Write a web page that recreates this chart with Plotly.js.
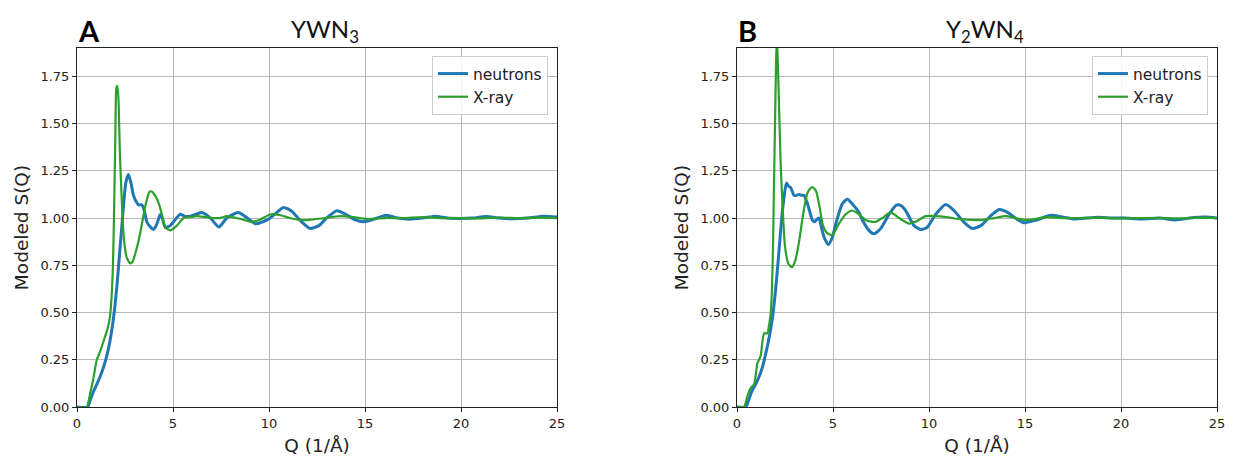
<!DOCTYPE html>
<html>
<head>
<meta charset="utf-8">
<script src="https://cdn.plot.ly/plotly-3.0.1.min.js"></script>
<style>html,body{margin:0;padding:0;background:#fff}#chart{width:1233px;height:457px}</style>
</head>
<body>
<div id="chart"></div>
<script>
// Panel A: YWN3
const qA_neutrons = [0,0.55,0.7,0.85,1.03,1.2,1.38,1.55,1.72,1.9,2.07,2.2,2.33,2.45,2.55,2.68,2.8,2.94,3.07,3.2,3.38,3.5,3.64,3.8,3.99,4.1,4.2,4.34,4.47,4.6,4.86,5.1,5.38,5.6,5.9,6.2,6.5,6.7,6.95,7.39,7.8,8.4,8.87,9.3,9.9,10.3,10.75,11.2,11.6,12.14,12.6,13.0,13.52,14.0,14.5,14.9,15.5,16.1,16.7,17.3,18.0,18.7,19.3,19.9,20.6,21.3,22.0,22.7,23.5,24.3,25];
const sA_neutrons = [0,0,0.04,0.08,0.12,0.16,0.21,0.27,0.35,0.47,0.63,0.79,0.95,1.10,1.19,1.23,1.19,1.12,1.09,1.07,1.07,1.04,0.98,0.955,0.94,0.955,0.98,1.02,0.99,0.95,0.96,0.99,1.02,1.01,1.01,1.02,1.03,1.02,1.0,0.953,1.0,1.03,1.0,0.97,0.99,1.02,1.056,1.035,0.99,0.945,0.96,1.0,1.038,1.02,0.99,0.98,0.995,1.015,1.0,0.994,1.0,1.01,1.0,0.998,1.0,1.008,1.0,0.996,1.0,1.01,1.005];
const qA_xray = [0,0.5,0.68,0.85,1.03,1.15,1.29,1.42,1.55,1.65,1.72,1.8,1.86,1.91,1.95,2.0,2.05,2.1,2.16,2.2,2.24,2.33,2.42,2.5,2.59,2.77,2.9,3.03,3.16,3.29,3.42,3.55,3.67,3.78,3.9,3.99,4.12,4.25,4.42,4.6,4.86,5.2,5.56,5.9,6.25,6.7,7.1,7.45,7.8,8.3,8.7,9.05,9.5,10.1,10.6,11.1,11.6,12.1,12.9,13.7,14.4,15.1,16.0,17.0,18.0,19.0,20.0,21.0,22.0,23.0,24.0,25];
const sA_xray = [0,0,0.07,0.15,0.25,0.28,0.32,0.36,0.40,0.44,0.48,0.58,0.71,0.92,1.15,1.45,1.69,1.70,1.63,1.48,1.32,1.10,0.92,0.84,0.79,0.76,0.77,0.81,0.86,0.92,0.99,1.06,1.11,1.14,1.14,1.13,1.11,1.08,1.02,0.95,0.935,0.96,1.0,1.005,1.01,1.005,1.0,1.0,1.01,1.0,0.99,0.98,0.99,1.02,1.015,1.0,0.99,0.99,1.0,1.01,1.005,0.995,1.0,1.0,1.005,1.0,1.0,0.998,1.003,1.0,1.002,1.0];
// Panel B: Y2WN4
const qB_neutrons = [0,0.45,0.62,0.8,0.97,1.15,1.32,1.49,1.62,1.75,1.88,2.01,2.14,2.27,2.36,2.45,2.57,2.68,2.8,2.97,3.1,3.23,3.36,3.49,3.66,3.8,3.92,4.05,4.13,4.27,4.4,4.53,4.76,4.97,5.1,5.23,5.49,5.75,6.0,6.35,6.53,6.87,7.14,7.48,7.92,8.3,8.52,8.78,9.22,9.57,9.9,10.35,10.87,11.3,11.8,12.26,12.7,13.2,13.65,14.1,14.5,14.95,15.6,16.34,17.0,17.6,18.2,18.8,19.5,20.2,21.1,22.0,22.85,23.6,24.4,25];
const sB_neutrons = [0,0,0.04,0.09,0.12,0.16,0.21,0.28,0.34,0.41,0.50,0.62,0.77,0.93,1.03,1.11,1.185,1.17,1.16,1.12,1.12,1.125,1.12,1.12,1.08,1.03,0.99,0.98,0.99,1.0,0.95,0.9,0.86,0.9,0.95,1.0,1.076,1.1,1.076,1.03,0.99,0.935,0.917,0.944,1.02,1.068,1.067,1.04,0.96,0.94,0.95,1.02,1.072,1.04,0.98,0.945,0.96,1.01,1.045,1.03,1.0,0.975,0.99,1.015,1.005,0.995,1.0,1.004,1.0,1.0,0.995,1.0,0.99,1.0,1.005,1.0];
const qB_xray = [0,0.36,0.55,0.71,0.89,1.06,1.23,1.41,1.58,1.68,1.75,1.82,1.88,1.93,1.98,2.03,2.07,2.12,2.19,2.27,2.36,2.5,2.67,2.85,3.02,3.19,3.3,3.4,3.53,3.66,3.8,3.92,4.03,4.13,4.22,4.3,4.48,4.7,4.97,5.31,5.66,6.0,6.35,6.7,7.05,7.22,7.57,8.0,8.44,8.96,9.2,9.3,9.83,10.3,10.9,11.55,12.2,12.8,13.4,14.0,14.5,15.0,15.5,16.1,17.0,18.0,19.0,20.0,21.0,22.0,23.0,24.0,25];
const sB_xray = [0,0,0.06,0.1,0.12,0.23,0.27,0.39,0.39,0.44,0.49,0.62,0.88,1.2,1.5,1.8,1.95,1.85,1.59,1.3,1.09,0.85,0.76,0.74,0.77,0.85,0.92,0.99,1.07,1.13,1.155,1.164,1.155,1.14,1.1,1.06,0.96,0.92,0.91,0.97,1.02,1.04,1.02,0.99,0.98,0.98,1.0,1.03,1.0,0.97,0.98,0.98,1.01,1.01,1.005,0.995,0.99,0.99,1.0,1.01,1.0,0.99,0.995,1.005,1.0,1.0,1.002,0.998,1.0,1.0,0.998,1.002,1.0];

const xTicks = [0,5,10,15,20,25];
const yTicks = [0,0.25,0.5,0.75,1.0,1.25,1.5,1.75];
const seriesNames = ["neutrons","X-ray"];
const panelTitles = ["YWN<sub>3</sub>","Y<sub>2</sub>WN<sub>4</sub>"];
const panelLetters = ["A","B"];

const BLUE = "#1f77b4", GREEN = "#2ca02c";
const W = 1233, H = 457;
const plotTop = 48, plotBottom = 407;
const panelsPx = [[77,557],[737,1217]];

function line(q, s, name, color, width, xa, ya, legend) {
  return {x:q, y:s, name:name, type:"scatter", mode:"lines",
    line:{color:color, width:width, shape:"spline", smoothing:0.6},
    xaxis:xa, yaxis:ya, legend:legend, hoverinfo:"skip", cliponaxis:true};
}

const traces = [
  line(qA_neutrons, sA_neutrons, seriesNames[0], BLUE, 3, "x", "y", "legend"),
  line(qA_xray, sA_xray, seriesNames[1], GREEN, 2.2, "x", "y", "legend"),
  line(qB_neutrons, sB_neutrons, seriesNames[0], BLUE, 3, "x2", "y2", "legend2"),
  line(qB_xray, sB_xray, seriesNames[1], GREEN, 2.2, "x2", "y2", "legend2")
];

const tickFont = {family:"DejaVu Sans, sans-serif", size:13, color:"#222"};
const titleFont = {family:"DejaVu Sans, sans-serif", size:18.5, color:"#222"};
function xaxis(i) {
  return {domain:[panelsPx[i][0]/W, panelsPx[i][1]/W], range:[0,25], tickvals:xTicks,
    ticktext:xTicks.map(String), ticks:"outside", ticklen:4, tickcolor:"#222",
    showline:true, mirror:true, linecolor:"#222", linewidth:1,
    showgrid:true, gridcolor:"#b8b8b8", gridwidth:1, zeroline:false,
    tickfont:tickFont, anchor: i===0 ? "y" : "y2", automargin:false,
    title:{text:"Q (1/Å)", font:titleFont, standoff:9}};
}
function yaxis(i) {
  return {domain:[1-plotBottom/H, 1-plotTop/H], range:[0,1.9], tickvals:yTicks,
    tickformat:".2f", ticks:"outside", ticklen:4, tickcolor:"#222",
    showline:true, mirror:true, linecolor:"#222", linewidth:1,
    showgrid:true, gridcolor:"#b8b8b8", gridwidth:1, zeroline:false,
    tickfont:tickFont, anchor: i===0 ? "x" : "x2", automargin:false,
    title:{text:"Modeled S(Q)", font:titleFont, standoff:6}};
}
function legend(i) {
  return {x:(panelsPx[i][1]-9)/W, y:1-56/H, xanchor:"right", yanchor:"top",
    bgcolor:"rgba(255,255,255,0.85)", bordercolor:"#cccccc", borderwidth:1,
    font:{family:"DejaVu Sans, sans-serif", size:15.5, color:"#222"},
    tracegroupgap:0, itemwidth:30};
}

const annotations = [];
for (let i = 0; i < 2; i++) {
  const cx = (panelsPx[i][0] + panelsPx[i][1]) / 2 + 8;
  annotations.push({text:panelTitles[i], x:cx/W, y:1-30/H, xref:"paper", yref:"paper",
    xanchor:"center", yanchor:"middle", showarrow:false,
    font:{family:"Lato, Open Sans, sans-serif", size:24, color:"#111"}});
  annotations.push({text:"<b>"+panelLetters[i]+"</b>", x:(panelsPx[i][0]-1)/W, y:1-30/H, xref:"paper", yref:"paper",
    xanchor:"left", yanchor:"middle", showarrow:false,
    font:{family:"Lato, Open Sans, sans-serif", size:29, color:"#000"}});
}

const layout = {
  width:W, height:H, margin:{l:0,r:0,t:0,b:0},
  paper_bgcolor:"#fff", plot_bgcolor:"#fff", showlegend:true,
  xaxis:xaxis(0), yaxis:yaxis(0), xaxis2:xaxis(1), yaxis2:yaxis(1),
  legend:legend(0), legend2:legend(1), annotations:annotations
};
Plotly.newPlot("chart", traces, layout, {staticPlot:true, displayModeBar:false});
</script>
</body>
</html>
